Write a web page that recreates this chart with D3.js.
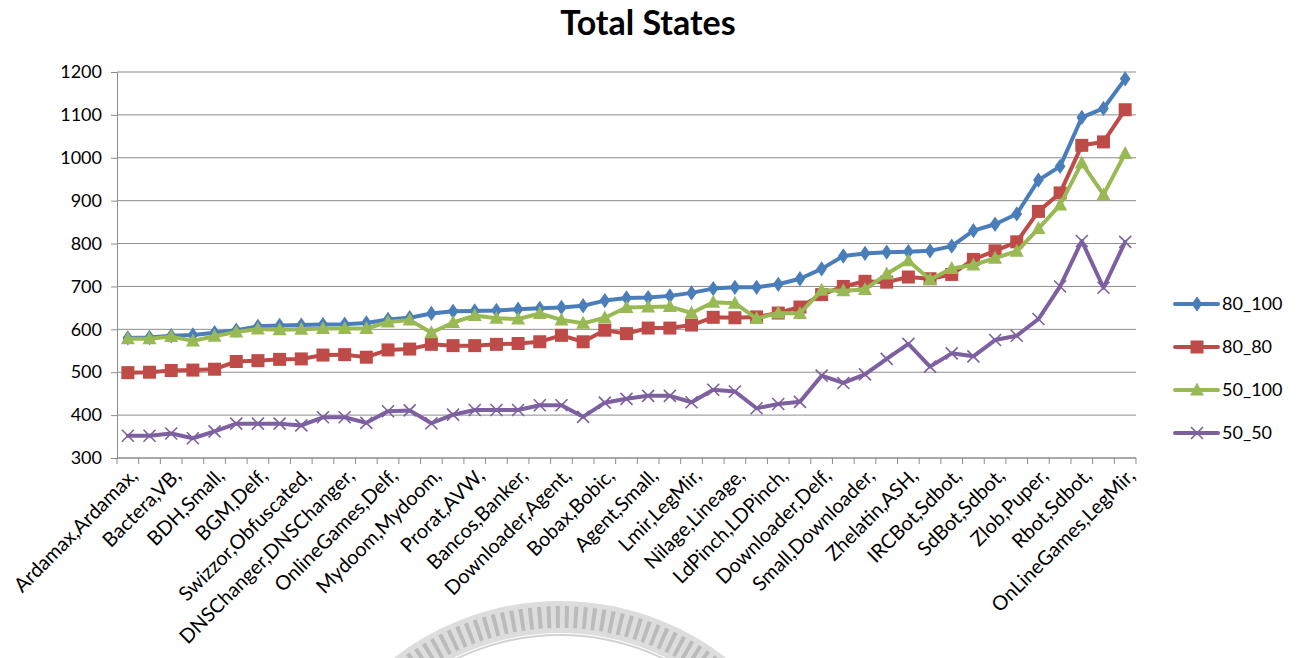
<!DOCTYPE html>
<html>
<head>
<meta charset="utf-8">
<script src="https://cdn.jsdelivr.net/npm/d3@7"></script>
<style>
  html, body { margin: 0; padding: 0; background: #fff; }
  svg { display: block; font-family: Lato, "Open Sans", sans-serif; }
</style>
</head>
<body>
<svg id="chart" width="1307" height="658"></svg>
<script>
// Sample labels printed on the category axis (every second sample is labelled)
const tickLabels = [
  "Ardamax,Ardamax,", "Bactera,VB,", "BDH,Small,", "BGM,Delf,",
  "Swizzor,Obfuscated,", "DNSChanger,DNSChanger,", "OnlineGames,Delf,", "Mydoom,Mydoom,",
  "Prorat,AVW,", "Bancos,Banker,", "Downloader,Agent,", "Bobax,Bobic,",
  "Agent,Small,", "Lmir,LegMir,", "Nilage,Lineage,", "LdPinch,LDPinch,",
  "Downloader,Delf,", "Small,Downloader,", "Zhelatin,ASH,", "IRCBot,Sdbot,",
  "SdBot,Sdbot,", "Zlob,Puper,", "Rbot,Sdbot,", "OnLineGames,LegMir,"
];

// Sample numbers along the x axis
const samples = [
   1,  2,  3,  4,  5,  6,  7,  8,  9, 10, 11, 12, 13, 14, 15, 16,
  17, 18, 19, 20, 21, 22, 23, 24, 25, 26, 27, 28, 29, 30, 31, 32,
  33, 34, 35, 36, 37, 38, 39, 40, 41, 42, 43, 44, 45, 46, 47
];

const seriesNames = ["80_100", "80_80", "50_100", "50_50"];

const s80_100 = [580, 581, 585, 587, 592, 598, 607, 609, 610, 611, 612, 615, 623, 627, 637, 642,
  643, 644, 647, 649, 651, 655, 667, 673, 674, 678, 685, 695, 698, 698, 705, 718,
  741, 771, 777, 780, 781, 783, 794, 830, 845, 869, 948, 980, 1094, 1115, 1184];

const s80_80 = [499, 500, 504, 505, 507, 525, 527, 530, 531, 540, 541, 535, 552, 554, 565, 562,
  562, 565, 567, 571, 586, 571, 598, 590, 603, 603, 610, 628, 627, 629, 638, 652,
  681, 700, 712, 710, 722, 718, 728, 763, 783, 804, 875, 918, 1029, 1037, 1112];

const s50_100 = [578, 578, 583, 573, 584, 594, 601, 599, 600, 602, 602, 602, 617, 622, 592, 616,
  632, 626, 624, 637, 622, 614, 627, 651, 652, 653, 638, 663, 661, 625, 638, 637,
  691, 690, 693, 729, 760, 716, 742, 750, 766, 782, 835, 890, 988, 914, 1010];

const s50_50 = [352, 352, 357, 346, 362, 380, 380, 380, 376, 395, 395, 382, 409, 411, 381, 401,
  412, 412, 412, 423, 423, 396, 429, 438, 445, 445, 430, 459, 455, 416, 426, 431,
  492, 475, 495, 531, 566, 513, 544, 537, 575, 585, 624, 700, 806, 697, 804];

const yTicks = [300, 400, 500, 600, 700, 800, 900, 1000, 1100, 1200];

const colors = ["#4a7ebb", "#be4b48", "#98b954", "#7d60a0"];
const markers = ["diamond", "square", "triangle", "cross"];
const seriesValues = [s80_100, s80_80, s50_100, s50_50];

const svg = d3.select("#chart");

const plot = { left: 117, right: 1136, top: 72, bottom: 458 };

const x = d3.scaleBand()
  .domain(samples)
  .range([plot.left, plot.right])
  .paddingInner(0).paddingOuter(0);

const y = d3.scaleLinear()
  .domain([300, 1200])
  .range([plot.bottom, plot.top]);

const cx = d => x(d) + x.bandwidth() / 2;

// Faint circular seal printed behind the bottom of the page
const seal = svg.append("g").attr("opacity", 0.6);
seal.append("circle")
  .attr("cx", 560).attr("cy", 872).attr("r", 255)
  .attr("fill", "none").attr("stroke", "#c8c8c8").attr("stroke-width", 32);
seal.append("circle")
  .attr("cx", 560).attr("cy", 872).attr("r", 255)
  .attr("fill", "none").attr("stroke", "#8f8f8f").attr("stroke-width", 22)
  .attr("stroke-dasharray", "4 5");
seal.append("circle")
  .attr("cx", 560).attr("cy", 872).attr("r", 237)
  .attr("fill", "none").attr("stroke", "#b5b5b5").attr("stroke-width", 2);

// Horizontal gridlines
svg.append("g")
  .selectAll("line")
  .data(yTicks)
  .join("line")
  .attr("x1", plot.left).attr("x2", plot.right)
  .attr("y1", d => y(d)).attr("y2", d => y(d))
  .attr("stroke", "#8c8c8c").attr("stroke-width", 1);

// Y axis
const yAxis = svg.append("g")
  .attr("transform", `translate(${plot.left},0)`)
  .call(d3.axisLeft(y).tickValues(yTicks).tickSize(6).tickPadding(9).tickFormat(d3.format("d")));
yAxis.select(".domain").attr("stroke", "#8c8c8c");
yAxis.selectAll(".tick line").attr("stroke", "#8c8c8c");
yAxis.selectAll(".tick text")
  .attr("font-family", "Lato, sans-serif")
  .attr("font-size", 18).attr("fill", "#000");

// X axis: ticks at category boundaries
const boundaries = samples.map(s => x(s)).concat([plot.right]);
const xAxis = svg.append("g");
xAxis.append("line")
  .attr("x1", plot.left).attr("x2", plot.right)
  .attr("y1", plot.bottom).attr("y2", plot.bottom)
  .attr("stroke", "#8c8c8c");
xAxis.selectAll("line.tk")
  .data(boundaries)
  .join("line").attr("class", "tk")
  .attr("x1", d => d).attr("x2", d => d)
  .attr("y1", plot.bottom).attr("y2", plot.bottom + 6)
  .attr("stroke", "#8c8c8c");

xAxis.selectAll("text")
  .data(tickLabels)
  .join("text")
  .attr("transform", (d, i) => `translate(${cx(samples[i * 2]) + 6},${plot.bottom + 14}) rotate(-45)`)
  .attr("text-anchor", "end")
  .attr("dy", "0.35em")
  .attr("font-family", "Lato, sans-serif")
  .attr("font-size", 20)
  .attr("fill", "#000")
  .text(d => d);

// Marker shapes
function drawMarker(g, type, color, px, py) {
  if (type === "diamond") {
    g.append("path")
      .attr("d", d3.symbol(d3.symbolDiamond, 75)())
      .attr("transform", `translate(${px},${py}) scale(1.15,0.95)`)
      .attr("fill", color);
  } else if (type === "square") {
    g.append("rect")
      .attr("x", px - 6.5).attr("y", py - 6.5)
      .attr("width", 13).attr("height", 13)
      .attr("fill", color);
  } else if (type === "triangle") {
    g.append("path")
      .attr("d", `M${px},${py - 7.5}L${px + 7},${py + 5.5}L${px - 7},${py + 5.5}Z`)
      .attr("fill", color);
  } else {
    g.append("path")
      .attr("d", `M${px - 6},${py - 6}L${px + 6},${py + 6}M${px - 6},${py + 6}L${px + 6},${py - 6}`)
      .attr("stroke", color).attr("stroke-width", 1.6).attr("fill", "none");
  }
}

const line = d3.line()
  .x((d, i) => cx(samples[i]))
  .y(d => y(d));

seriesValues.forEach((vals, k) => {
  const g = svg.append("g");
  g.append("path")
    .datum(vals)
    .attr("d", line)
    .attr("fill", "none")
    .attr("stroke", colors[k])
    .attr("stroke-width", 4)
    .attr("stroke-linejoin", "round")
    .attr("stroke-linecap", "round");
  vals.forEach((v, i) => drawMarker(g, markers[k], colors[k], cx(samples[i]), y(v)));
});

// Title
svg.append("text")
  .attr("x", 648).attr("y", 35)
  .attr("text-anchor", "middle")
  .attr("font-family", "Lato, sans-serif")
  .attr("font-weight", "bold")
  .attr("font-size", 34)
  .attr("fill", "#000")
  .text("Total States");

// Legend
const legend = svg.append("g");
seriesNames.forEach((name, k) => {
  const ly = 304 + k * 43;
  const g = legend.append("g");
  g.append("line")
    .attr("x1", 1175).attr("x2", 1218)
    .attr("y1", ly).attr("y2", ly)
    .attr("stroke", colors[k]).attr("stroke-width", 4).attr("stroke-linecap", "round");
  drawMarker(g, markers[k], colors[k], 1197, ly);
  g.append("text")
    .attr("x", 1222).attr("y", ly)
    .attr("dy", "0.35em")
    .attr("font-family", "Lato, sans-serif")
    .attr("font-size", 18)
    .attr("fill", "#000")
    .text(name);
});
</script>
</body>
</html>
